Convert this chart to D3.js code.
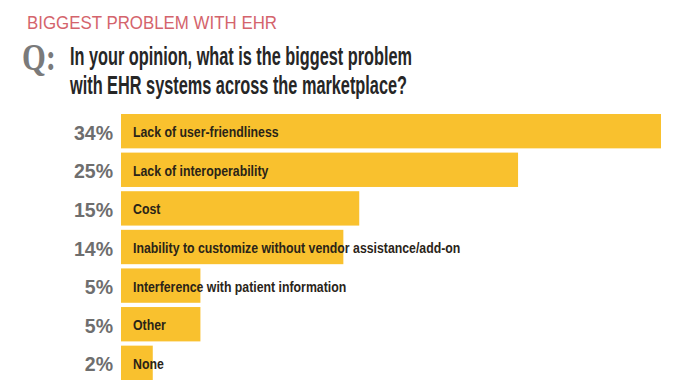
<!DOCTYPE html>
<html><head><meta charset="utf-8">
<script src="https://cdn.jsdelivr.net/npm/d3@7"></script>
<style>body{margin:0;background:#fff}svg{display:block}</style>
</head><body>
<script>
const categories = ["Lack of user-friendliness","Lack of interoperability","Cost","Inability to customize without vendor assistance/add-on","Interference with patient information","Other","None"];
const values = [34,25,15,14,5,5,2];
const valueLabels = ["34%","25%","15%","14%","5%","5%","2%"];
const title = "BIGGEST PROBLEM WITH EHR";
const questionLines = ["In your opinion, what is the biggest problem","with EHR systems across the marketplace?"];

const W=700,H=381;
const svg=d3.select("body").append("svg").attr("width",W).attr("height",H);
const sans="'Liberation Sans',Arial,sans-serif";

svg.append("text").attr("x",27).attr("y",29).text(title)
  .attr("font-family",sans).attr("font-size",17.5)
  .attr("fill","#d4646c").attr("textLength",250).attr("lengthAdjust","spacingAndGlyphs");

svg.append("text").attr("x",22).attr("y",70).text("Q:")
  .attr("font-family","'Liberation Serif','Times New Roman',serif").attr("font-weight","bold")
  .attr("font-size",37).attr("fill","#7a7a7a").attr("textLength",34).attr("lengthAdjust","spacingAndGlyphs");

const qLens=[342,337];
questionLines.forEach((l,i)=>{
  svg.append("text").attr("x",70).attr("y",65+i*29).text(l)
   .attr("font-family",sans).attr("font-weight","bold").attr("font-size",25).attr("fill","#262626")
   .attr("textLength",qLens[i]).attr("lengthAdjust","spacingAndGlyphs");
});

const x=d3.scaleLinear().domain([0,34]).range([121,661]);
const y=d3.scaleBand().domain(categories).range([114,380]).paddingInner(0.11).paddingOuter(0.0);

const g=svg.append("g");
g.selectAll("rect").data(values).join("rect")
  .attr("x",x(0)).attr("y",(d,i)=>y(categories[i]))
  .attr("width",d=>x(d)-x(0)).attr("height",y.bandwidth())
  .attr("fill","#f9c12e");

const condense=0.82;
g.selectAll("text.lab").data(categories).join("text").attr("class","lab")
  .attr("x",x(0)+12).attr("y",d=>y(d)+y.bandwidth()/2+6)
  .text(d=>d).attr("font-family",sans).attr("font-weight","bold")
  .attr("font-size",15).attr("fill","#2a2418")
  .each(function(){const w=this.getComputedTextLength();
    d3.select(this).attr("textLength",w*condense).attr("lengthAdjust","spacingAndGlyphs");});

g.selectAll("text.val").data(valueLabels).join("text").attr("class","val")
  .attr("x",113).attr("y",(d,i)=>y(categories[i])+y.bandwidth()/2+8.5)
  .attr("text-anchor","end").text(d=>d)
  .attr("font-family",sans).attr("font-weight","bold").attr("font-size",19.5).attr("fill","#6e6e6e");
</script>
</body></html>
